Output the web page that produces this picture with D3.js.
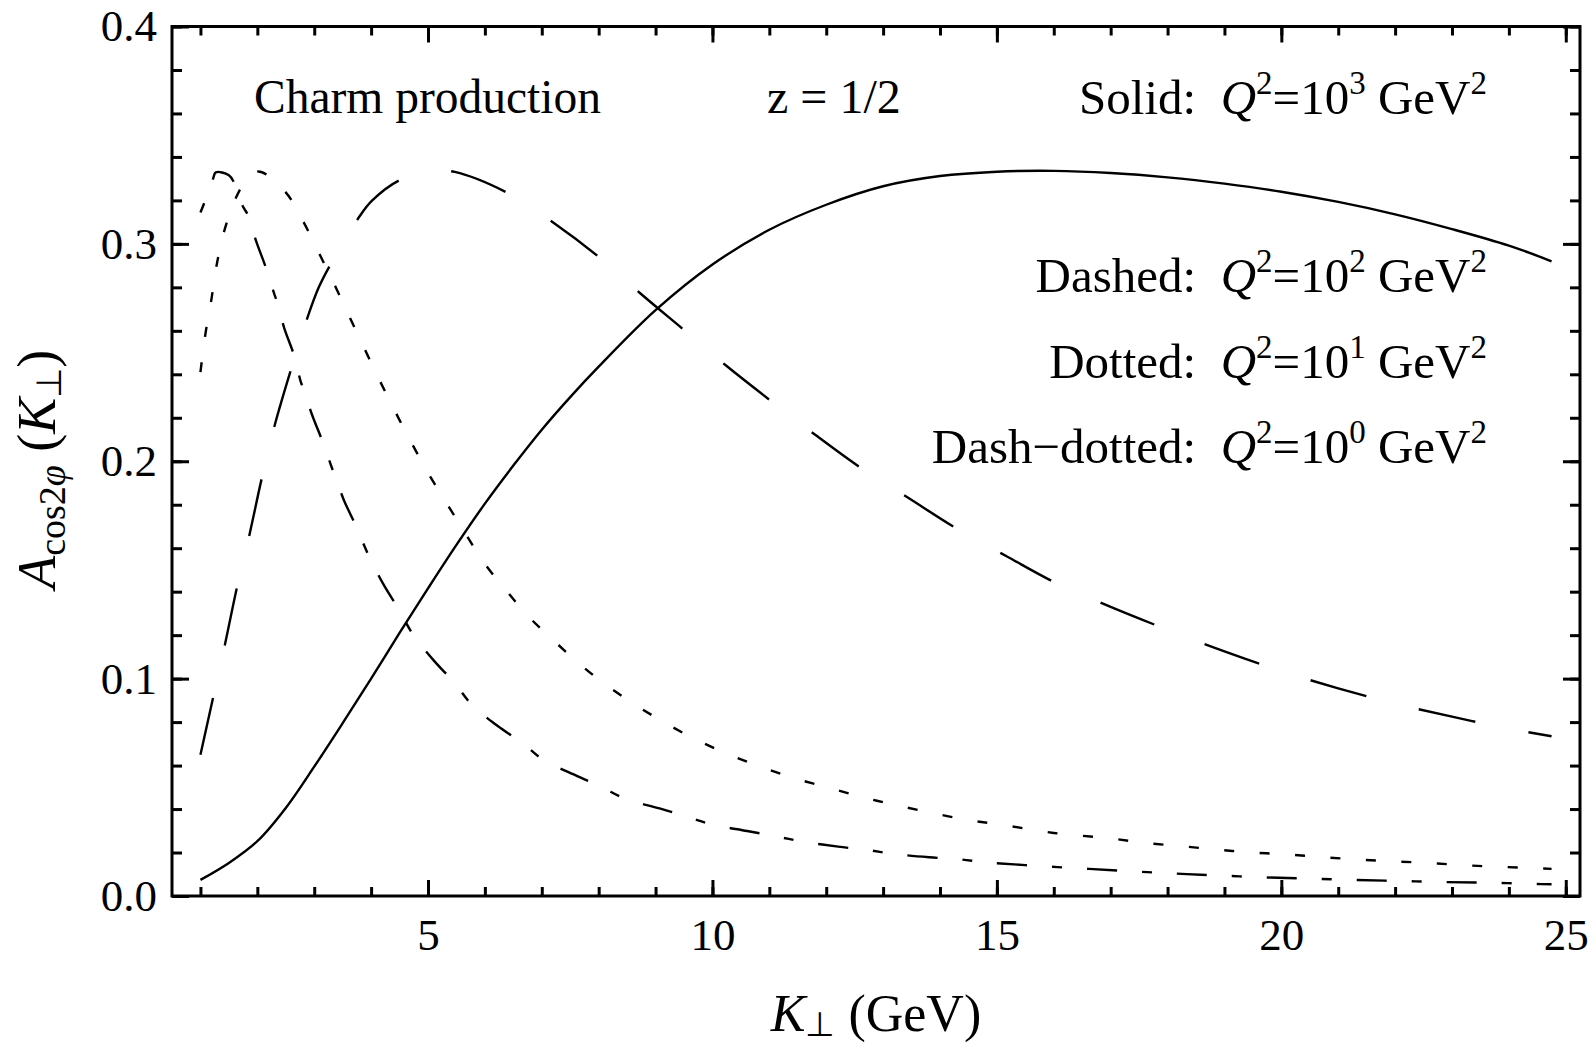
<!DOCTYPE html>
<html>
<head>
<meta charset="utf-8">
<script src="https://cdn.jsdelivr.net/npm/d3@7"></script>
<style>
  body { margin: 0; background: #fff; }
  svg { display: block; font-family: "Liberation Serif", "Times New Roman", serif; }
  .tick text { font-family: "Liberation Serif", "Times New Roman", serif; }
</style>
</head>
<body>
<svg id="chart" width="1593" height="1045"></svg>
<script>
// values
const kSolid = [1, 1.5, 2, 2.5, 3, 3.5, 4, 4.5, 5, 5.5, 6, 6.5, 7, 7.5, 8, 9, 10, 11, 12, 13, 14, 15, 16, 17, 18, 19, 20, 21, 22, 23, 24, 24.75];
const aSolid = [0.0074, 0.0152, 0.0252, 0.0405, 0.0595, 0.0795, 0.1, 0.121, 0.1415, 0.1615, 0.1805, 0.198, 0.2145, 0.2295, 0.2435, 0.2695, 0.2905, 0.3065, 0.318, 0.3265, 0.3312, 0.3332, 0.3336, 0.3326, 0.3306, 0.3277, 0.324, 0.3193, 0.3136, 0.3068, 0.2992, 0.292];

const kDashed = [1, 1.22, 1.43, 1.64, 1.86, 2.08, 2.31, 2.59, 2.88, 3.08, 3.29, 3.78, 4.02, 4.54, 5.2, 5.47, 6.41, 7.2, 8.03, 8.73, 9.54, 10.25, 11.07, 11.8, 12.65, 13.44, 14.32, 15.17, 16, 17, 18, 19, 20, 21, 22, 23, 24, 24.75];
const aDashed = [0.065, 0.091, 0.1156, 0.1417, 0.166, 0.1924, 0.217, 0.242, 0.266, 0.28, 0.2907, 0.312, 0.32, 0.3298, 0.3335, 0.3331, 0.3233, 0.3098, 0.2934, 0.2773, 0.2595, 0.2438, 0.2269, 0.2123, 0.1962, 0.1832, 0.1686, 0.1563, 0.1445, 0.133, 0.1225, 0.1125, 0.1035, 0.0955, 0.0885, 0.0825, 0.077, 0.0735];

const kDotted = [1, 1.09, 1.19, 1.29, 1.43, 1.62, 1.8, 2.02, 2.49, 2.8, 3.08, 3.36, 3.61, 3.88, 4.14, 4.42, 4.71, 5, 5.32, 5.66, 5.98, 6.36, 6.77, 7.21, 7.68, 8.15, 8.67, 9.19, 9.73, 10.3, 10.87, 11.45, 12.06, 12.65, 13.24, 13.85, 14.46, 15.08, 16, 16.99, 17.57, 18.2, 18.82, 19.43, 20.05, 20.66, 21.28, 21.9, 22.52, 23.14, 23.75, 24.37, 24.75];
const aDotted = [0.241, 0.259, 0.274, 0.291, 0.307, 0.321, 0.329, 0.3333, 0.324, 0.3106, 0.296, 0.281, 0.267, 0.252, 0.2377, 0.223, 0.2085, 0.1947, 0.181, 0.1667, 0.1535, 0.141, 0.1285, 0.1175, 0.1064, 0.0967, 0.0875, 0.0793, 0.0717, 0.065, 0.0592, 0.0541, 0.0497, 0.0454, 0.0417, 0.0383, 0.0351, 0.0328, 0.029, 0.0265, 0.0245, 0.023, 0.0215, 0.0201, 0.0192, 0.018, 0.0169, 0.016, 0.0153, 0.0143, 0.0135, 0.0129, 0.0125];

const kDashDot = [1, 1.07, 1.22, 1.27, 1.5, 1.59, 1.74, 1.84, 1.97, 2.16, 2.29, 2.35, 2.47, 2.65, 2.76, 2.82, 2.96, 3.16, 3.31, 3.37, 3.52, 3.72, 3.95, 4.21, 4.49, 4.72, 5.1, 5.46, 5.77, 6.22, 6.66, 7.03, 7.58, 8.06, 8.48, 9.07, 9.58, 10.01, 10.61, 11.14, 11.59, 12.21, 12.74, 13.2, 13.81, 14.34, 14.79, 15.5, 16.4, 17.28, 18.07, 18.86, 19.68, 20.47, 21.28, 22.08, 22.88, 23.69, 24.5, 24.75];
const aDashDot = [0.3144, 0.319, 0.3298, 0.3329, 0.3316, 0.3282, 0.3175, 0.313, 0.302, 0.2883, 0.2776, 0.273, 0.2615, 0.2484, 0.2369, 0.2327, 0.2215, 0.2082, 0.197, 0.193, 0.1822, 0.171, 0.157, 0.1437, 0.1317, 0.121, 0.1084, 0.0982, 0.088, 0.0783, 0.0703, 0.0626, 0.0557, 0.05, 0.0446, 0.0403, 0.0362, 0.0328, 0.0299, 0.0273, 0.025, 0.0227, 0.0211, 0.0193, 0.0178, 0.0169, 0.0155, 0.0142, 0.0128, 0.0115, 0.0104, 0.0095, 0.0086, 0.008, 0.0074, 0.0069, 0.0064, 0.0061, 0.0055, 0.0054];

const xMajor = [5, 10, 15, 20, 25];
const xMinor = d3.range(1, 26);
const yMajor = [0, 0.1, 0.2, 0.3, 0.4];
const yMinor = d3.range(0, 0.401, 0.02);

const svg = d3.select("#chart");

const frame = { left: 172, right: 1580, top: 26.5, bottom: 896 };

const x = d3.scaleLinear().domain([0.5, 25.25]).range([frame.left, frame.right]);
const y = d3.scaleLinear().domain([0, 0.4]).range([frame.bottom, frame.top]);

const font = "'Liberation Serif', 'Times New Roman', serif";

// curves
const line = d3
	.line()
	.x(d => x(d[0]))
	.y(d => y(d[1]))
	.curve(d3.curveCatmullRom.alpha(0.5));

const series = [
	{ k: kSolid, a: aSolid, dash: null },
	{ k: kDashed, a: aDashed, dash: "58,54" },
	{ k: kDotted, a: aDotted, dash: "10,25.5" },
	{ k: kDashDot, a: aDashDot, dash: "10,25,30,25" }
];

const plot = svg.append("g");

series.forEach(s => {
	plot.append("path")
		.datum(d3.zip(s.k, s.a))
		.attr("fill", "none")
		.attr("stroke", "#000")
		.attr("stroke-width", 2.4)
		.attr("stroke-dasharray", s.dash)
		.attr("d", line);
});

// axes: ticks point inward on all four sides
function styleAxis(g) {
	g.select(".domain").remove();
	g.selectAll(".tick line").attr("stroke", "#000").attr("stroke-width", 3);
	g.selectAll(".tick text")
		.attr("fill", "#000")
		.style("font-family", font)
		.style("font-size", "45px");
}

svg.append("g")
	.attr("transform", `translate(0, ${frame.bottom})`)
	.call(d3.axisBottom(x).tickValues(xMinor).tickSizeInner(-9).tickSizeOuter(0).tickFormat(""))
	.call(styleAxis);
svg.append("g")
	.attr("transform", `translate(0, ${frame.bottom})`)
	.call(d3.axisBottom(x).tickValues(xMajor).tickSizeInner(-16).tickSizeOuter(0).tickPadding(22).tickFormat(d3.format("d")))
	.call(styleAxis);

svg.append("g")
	.attr("transform", `translate(0, ${frame.top})`)
	.call(d3.axisTop(x).tickValues(xMinor).tickSizeInner(-9).tickSizeOuter(0).tickFormat(""))
	.call(styleAxis);
svg.append("g")
	.attr("transform", `translate(0, ${frame.top})`)
	.call(d3.axisTop(x).tickValues(xMajor).tickSizeInner(-16).tickSizeOuter(0).tickFormat(""))
	.call(styleAxis);

svg.append("g")
	.attr("transform", `translate(${frame.left}, 0)`)
	.call(d3.axisLeft(y).tickValues(yMinor).tickSizeInner(-10).tickSizeOuter(0).tickFormat(""))
	.call(styleAxis);
svg.append("g")
	.attr("transform", `translate(${frame.left}, 0)`)
	.call(d3.axisLeft(y).tickValues(yMajor).tickSizeInner(-17).tickSizeOuter(0).tickPadding(15).tickFormat(d3.format(".1f")))
	.call(styleAxis);

svg.append("g")
	.attr("transform", `translate(${frame.right}, 0)`)
	.call(d3.axisRight(y).tickValues(yMinor).tickSizeInner(-10).tickSizeOuter(0).tickFormat(""))
	.call(styleAxis);
svg.append("g")
	.attr("transform", `translate(${frame.right}, 0)`)
	.call(d3.axisRight(y).tickValues(yMajor).tickSizeInner(-17).tickSizeOuter(0).tickFormat(""))
	.call(styleAxis);

svg.append("rect")
	.attr("x", frame.left)
	.attr("y", frame.top)
	.attr("width", frame.right - frame.left)
	.attr("height", frame.bottom - frame.top)
	.attr("fill", "none")
	.attr("stroke", "#000")
	.attr("stroke-width", 3);

// axis labels
const xLab = svg.append("text")
	.attr("x", (frame.left + frame.right) / 2)
	.attr("y", 1031)
	.attr("text-anchor", "middle")
	.style("font-size", "52px")
	.style("white-space", "pre");
xLab.append("tspan").style("font-style", "italic").text("K");
xLab.append("tspan").attr("dy", 5).style("font-size", "34px").text("\u22A5");
xLab.append("tspan").attr("dy", -5).text(" (GeV)");

const yLab = svg.append("text")
	.attr("transform", `translate(55, ${(frame.top + frame.bottom) / 2 + 8}) rotate(-90)`)
	.attr("text-anchor", "middle")
	.style("font-size", "54px")
	.style("white-space", "pre");
yLab.append("tspan").style("font-style", "italic").text("A");
yLab.append("tspan").attr("dy", 10).style("font-size", "38px").text("cos2");
yLab.append("tspan").style("font-size", "38px").style("font-style", "italic").text("\u03C6");
yLab.append("tspan").attr("dy", -10).text(" (");
yLab.append("tspan").style("font-style", "italic").text("K");
yLab.append("tspan").attr("dy", 6).style("font-size", "35px").text("\u22A5");
yLab.append("tspan").attr("dy", -6).text(")");

// annotations
svg.append("text")
	.attr("x", 254)
	.attr("y", 113)
	.style("font-size", "47.5px")
	.text("Charm production");

svg.append("text")
	.attr("x", 767)
	.attr("y", 113)
	.style("font-size", "48px")
	.text("z = 1/2");

const legendNames = ["Solid:", "Dashed:", "Dotted:", "Dash\u2212dotted:"];
const legendPowers = ["3", "2", "1", "0"];
const legendBaselines = [114, 292, 378, 463];

legendNames.forEach((name, i) => {
	const t = svg.append("text")
		.attr("x", 1487)
		.attr("y", legendBaselines[i])
		.attr("text-anchor", "end")
		.style("font-size", "49px")
		.style("white-space", "pre");
	t.append("tspan").text(name + "  ");
	t.append("tspan").style("font-style", "italic").text("Q");
	t.append("tspan").attr("dy", -20).style("font-size", "33px").text("2");
	t.append("tspan").attr("dy", 20).text("=10");
	t.append("tspan").attr("dy", -20).style("font-size", "33px").text(legendPowers[i]);
	t.append("tspan").attr("dy", 20).text(" GeV");
	t.append("tspan").attr("dy", -20).style("font-size", "33px").text("2");
});
</script>
</body>
</html>
